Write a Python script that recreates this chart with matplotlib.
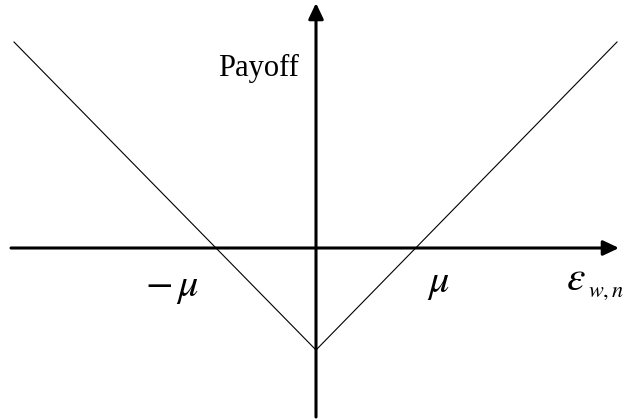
import matplotlib
matplotlib.use("Agg")
import matplotlib.pyplot as plt

# payoff curve (x in units of mu)
payoff_x = [-3.02, 0.0, 3.01]
payoff_y = [2.06, -1.02, 2.06]

axis_label_x = r'$\varepsilon$'
axis_label_x_sub = r'$w,n$'
axis_label_y = 'Payoff'
tick_labels = [r'$-\,\mu$', r'$\mu$']

plt.rcParams['mathtext.fontset'] = 'stix'
plt.rcParams['font.family'] = ['Liberation Serif', 'DejaVu Serif']

fig = plt.figure(figsize=(6.29, 4.19), dpi=100)
ax = fig.add_axes([0, 0, 1, 1])
ax.set_xlim(-3.16, 3.13)
ax.set_ylim(-1.71, 2.48)
ax.axis('off')

arrow = dict(arrowstyle='-|>,head_length=0.95,head_width=0.45', mutation_scale=10,
             lw=2.2, color='black', shrinkA=0, shrinkB=0)
ax.annotate('', xy=(3.03, 0), xytext=(-3.05, 0), arrowprops=arrow)
ax.annotate('', xy=(0, 2.45), xytext=(0, -1.69), arrowprops=arrow)

ax.plot(payoff_x, payoff_y, color='black', lw=0.8, zorder=1)

ax.text(-0.58, 1.80, axis_label_y, fontsize=22, ha='center', va='center')
ax.text(-1.44, -0.40, tick_labels[0], fontsize=29, ha='center', va='center')
ax.text(1.22, -0.35, tick_labels[1], fontsize=29, ha='center', va='center')
ax.text(2.50, -0.32, axis_label_x, fontsize=30, ha='left', va='center')
ax.text(2.72, -0.44, axis_label_x_sub, fontsize=16, ha='left', va='center')

fig.savefig('out.png', dpi=100)
